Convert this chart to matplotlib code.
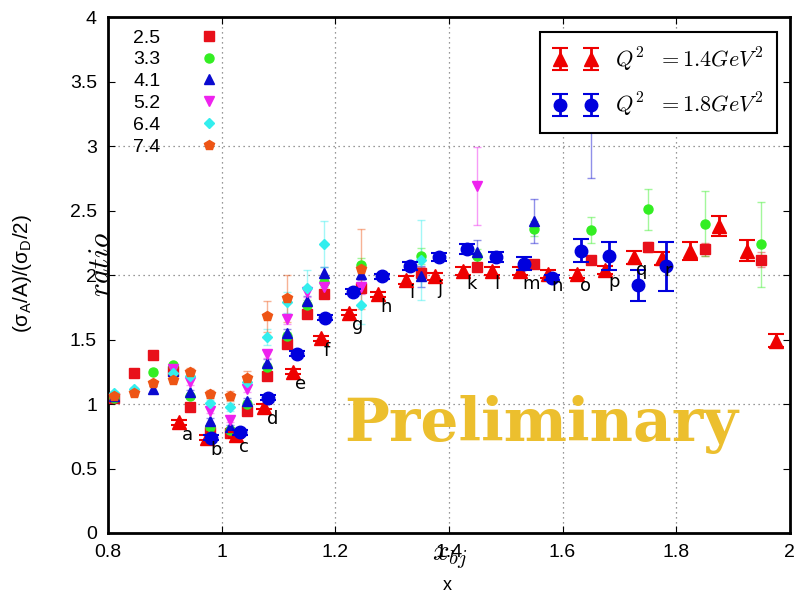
import numpy as np
import matplotlib
matplotlib.use("Agg")
import matplotlib.pyplot as plt

nan = np.nan

# gnuplot-like series (small markers)
x_bg = [0.81, 0.845, 0.88, 0.915, 0.945, 0.98, 1.015, 1.045, 1.08, 1.115,
        1.15, 1.18, 1.245, 1.35, 1.45, 1.55, 1.65, 1.75, 1.85, 1.95]
y_25 = [1.05, 1.24, 1.38, 1.26, 0.98, 0.78, 0.775, 0.945, 1.22, 1.465,
        1.70, 1.85, 1.90, 2.02, 2.06, 2.09, 2.12, 2.22, 2.20, 2.12]
e_25 = [0.02, 0.02, 0.02, 0.02, 0.02, 0.02, 0.02, 0.02, 0.03, 0.03,
        0.03, 0.03, 0.04, 0.04, 0.03, 0.03, 0.03, 0.04, 0.05, 0.06]
y_33 = [1.05, nan, 1.25, 1.30, 1.06, 0.82, 0.80, 1.00, 1.29, 1.53,
        1.77, 1.95, 2.08, 2.15, 2.15, 2.36, 2.35, 2.51, 2.40, 2.24]
e_33 = [0.02, nan, 0.02, 0.02, 0.02, 0.02, 0.02, 0.03, 0.03, 0.03,
        0.04, 0.04, 0.05, 0.06, 0.05, 0.06, 0.10, 0.16, 0.25, 0.33]
y_41 = [1.06, nan, 1.12, 1.26, 1.09, 0.87, 0.82, 1.02, 1.32, 1.55,
        1.80, 2.02, 2.01, 1.99, 2.18, 2.42, 3.30, nan, nan, nan]
e_41 = [0.02, nan, 0.02, 0.02, 0.02, 0.02, 0.02, 0.03, 0.03, 0.03,
        0.04, 0.04, 0.05, 0.08, 0.09, 0.17, 0.55, nan, nan, nan]
y_52 = [nan, nan, nan, 1.27, 1.17, 0.95, 0.88, 1.12, 1.39, 1.66,
        1.87, 1.91, 1.91, nan, 2.69, nan, nan, nan, nan, nan]
e_52 = [nan, nan, nan, 0.02, 0.02, 0.02, 0.02, 0.03, 0.03, 0.04,
        0.04, 0.05, 0.06, nan, 0.30, nan, nan, nan, nan, nan]
y_64 = [1.085, 1.115, nan, 1.24, 1.22, 1.01, 0.98, 1.17, 1.52, 1.79,
        1.90, 2.24, 1.77, 2.12, nan, nan, nan, nan, nan, nan]
e_64 = [0.02, 0.02, nan, 0.02, 0.02, 0.02, 0.03, 0.04, 0.06, 0.08,
        0.14, 0.18, 0.15, 0.31, nan, nan, nan, nan, nan, nan]
y_74 = [1.06, 1.085, 1.16, 1.19, 1.25, 1.08, 1.06, 1.20, 1.68, 1.82,
        nan, nan, 2.05, nan, nan, nan, nan, nan, nan, nan]
e_74 = [0.02, 0.02, 0.02, 0.02, 0.03, 0.03, 0.04, 0.06, 0.12, 0.18,
        nan, nan, 0.31, nan, nan, nan, nan, nan, nan, nan]

# overlay series (Q^2 = 1.4 and 1.8 GeV^2)
x_red = [0.925, 0.975, 1.025, 1.075, 1.125, 1.175, 1.225, 1.275, 1.325, 1.375, 1.425,
         1.475, 1.525, 1.575, 1.625, 1.675, 1.725, 1.775, 1.825, 1.875, 1.925, 1.975]
y_red = [0.86, 0.74, 0.76, 0.98, 1.25, 1.51, 1.71, 1.85, 1.96, 1.99, 2.03,
         2.03, 2.03, 2.01, 2.01, 2.04, 2.14, 2.13, 2.19, 2.38, 2.19, 1.49]
e_red = [0.02, 0.02, 0.02, 0.02, 0.02, 0.02, 0.02, 0.02, 0.03, 0.03, 0.03,
         0.03, 0.03, 0.03, 0.03, 0.03, 0.05, 0.05, 0.07, 0.08, 0.08, 0.05]
lab_red = list("abcdefghijklmnopqr")

x_blue = [0.982, 1.032, 1.082, 1.132, 1.182, 1.232, 1.282, 1.332, 1.382, 1.432,
          1.482, 1.532, 1.582, 1.632, 1.682, 1.732, 1.782]
y_blue = [0.74, 0.78, 1.05, 1.39, 1.67, 1.87, 1.99, 2.07, 2.14, 2.20,
          2.14, 2.09, 1.98, 2.19, 2.15, 1.92, 2.07]
e_blue = [0.02, 0.02, 0.02, 0.02, 0.02, 0.02, 0.02, 0.03, 0.03, 0.04,
          0.04, 0.05, 0.02, 0.09, 0.11, 0.12, 0.19]

fig = plt.figure(figsize=(7.97, 5.94), dpi=100)
ax = fig.add_axes([0.1355, 0.1027, 0.8555, 0.8683])

bg = [("2.5", y_25, e_25, "s", "#e8101a", 6.5),
      ("3.3", y_33, e_33, "o", "#33ee22", 6.5),
      ("4.1", y_41, e_41, "^", "#0a0ad0", 6.5),
      ("5.2", y_52, e_52, "v", "#ee22ee", 6.5),
      ("6.4", y_64, e_64, "D", "#33eeee", 5),
      ("7.4", y_74, e_74, "p", "#ee5515", 7)]
bg_handles = []
for lab, yv, ev, mk, col, ms in bg:
    ax.errorbar(x_bg, yv, yerr=ev, fmt="none", ecolor=col, elinewidth=1,
                capsize=3, alpha=0.45, zorder=2)
    h, = ax.plot(x_bg, yv, ls="none", marker=mk, color=col, ms=ms, zorder=3, label=lab)
    bg_handles.append(h)

hr = ax.errorbar(x_red, y_red, yerr=e_red, fmt="^", color="#ee0000", ms=10,
                 elinewidth=2, capsize=6, capthick=1.5, zorder=5,
                 label=r"$Q^2\ \ =1.4GeV^2$")
hb = ax.errorbar(x_blue, y_blue, yerr=e_blue, fmt="o", color="#0000dd", ms=9,
                 elinewidth=2, capsize=6, capthick=1.5, zorder=6,
                 label=r"$Q^2\ \ =1.8GeV^2$")
for xi, yi, t in zip(x_red, y_red, lab_red):
    ax.annotate(t, (xi, yi), xytext=(2, -9), textcoords="offset points",
                ha="left", va="center", fontsize=13, zorder=7)

ax.text(1.562, 0.84, "Preliminary", color="#ecbf2e", fontsize=43, weight="bold",
        family="DejaVu Serif", ha="center", va="center", zorder=8)

ax.set_xlim(0.8, 2.0)
ax.set_ylim(0, 4)
xt = [0.8, 1.0, 1.2, 1.4, 1.6, 1.8, 2.0]
yt = [0, 0.5, 1, 1.5, 2, 2.5, 3, 3.5, 4]
ax.set_xticks(xt)
ax.set_xticklabels(["0.8", "1", "1.2", "1.4", "1.6", "1.8", "2"])
ax.set_yticks(yt)
ax.set_yticklabels(["0", "0.5", "1", "1.5", "2", "2.5", "3", "3.5", "4"])
ax.tick_params(direction="in", length=5, labelsize=14, top=True, right=True, pad=8)
for lbl in ax.get_xticklabels() + ax.get_yticklabels():
    lbl.set_family("Liberation Sans")
ax.grid(True, ls=(0, (1, 3)), color="#777777", lw=0.9)
for gl, t in zip(ax.yaxis.get_gridlines(), yt):
    gl.set_visible(t in (1, 2, 3))
for gl, t in zip(ax.xaxis.get_gridlines(), xt):
    gl.set_visible(t not in (0.8, 2.0))
for sp in ax.spines.values():
    sp.set_linewidth(2)

leg1 = ax.legend(handles=bg_handles, loc="upper left", bbox_to_anchor=(0.02, 1.0),
                 frameon=False, markerfirst=False, handlelength=1, handletextpad=2.0,
                 labelspacing=0.22, borderaxespad=0.2,
                 prop={"family": "Liberation Sans", "size": 14})
ax.add_artist(leg1)
leg2 = ax.legend(handles=[hr, hb], loc="upper right", bbox_to_anchor=(0.981, 0.971),
                 numpoints=2, fancybox=False, edgecolor="black", framealpha=1,
                 prop={"size": 16, "math_fontfamily": "cm"}, handlelength=2.0,
                 labelspacing=0.8, borderpad=0.6, borderaxespad=0)
leg2.get_frame().set_linewidth(1.5)

fig.text(0.5645, 0.063, r"$x_{bj}$", fontsize=21, ha="center", va="center",
         math_fontfamily="cm")
fig.text(0.561, 0.015, "x", fontsize=13, ha="center", va="center",
         family="Liberation Sans")
fig.text(0.127, 0.555, r"$ratio$", fontsize=21, rotation=90, ha="center",
         va="center", math_fontfamily="cm")
fig.text(0.028, 0.539, r"(σ$_\mathregular{A}$/A)/(σ$_\mathregular{D}$/2)", fontsize=15,
         rotation=90, ha="center", va="center", family="Liberation Sans")

fig.savefig("out.png", dpi=100)
